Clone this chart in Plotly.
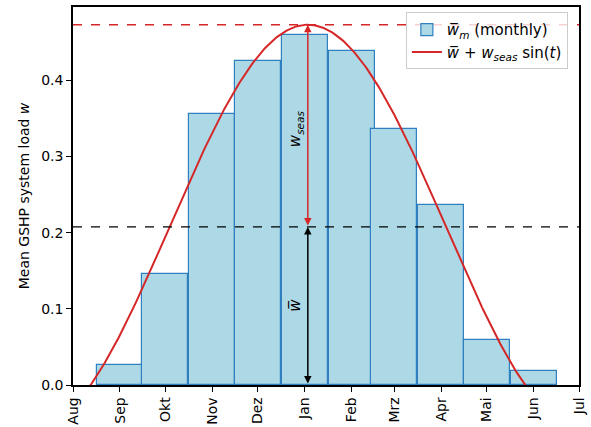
import numpy as np
import pandas as pd
import plotly.graph_objects as go

# monthly mean loads (bars centred on the first of each month)
bar_months = ['2021-09-01', '2021-10-01', '2021-11-01', '2021-12-01', '2022-01-01',
              '2022-02-01', '2022-03-01', '2022-04-01', '2022-05-01', '2022-06-01']
w_monthly = [0.026, 0.146, 0.356, 0.425, 0.459, 0.438, 0.336, 0.236, 0.059, 0.018]

# seasonal fit parameters
w_mean = 0.2075
w_seas = 0.2655
peak_date = '2022-01-03'

tick_dates = ['2021-08-01', '2021-09-01', '2021-10-01', '2021-11-01', '2021-12-01',
              '2022-01-01', '2022-02-01', '2022-03-01', '2022-04-01', '2022-05-01',
              '2022-06-01', '2022-07-01']
tick_names = ['Aug', 'Sep', 'Okt', 'Nov', 'Dez', 'Jan', 'Feb', 'Mrz', 'Apr', 'Mai', 'Jun', 'Jul']

FONT = 'DejaVu Sans'
RED = '#d62728'

days = pd.date_range('2021-07-20', '2022-07-10', freq='D')
t = 2 * np.pi * (days - pd.Timestamp(peak_date)).days.values / 365.0 + np.pi / 2
curve = w_mean + w_seas * np.sin(t)

bar_width_ms = 365 / 12 * 86400000

fig = go.Figure()

fig.add_trace(go.Bar(
    x=bar_months,
    y=w_monthly,
    width=[bar_width_ms] * len(bar_months),
    name='<i>w̅</i><sub><i>m</i></sub> (monthly)',
    marker=dict(color='#add8e6', line=dict(color='#2f7fc1', width=1.2)),
))

fig.add_trace(go.Scatter(
    x=days,
    y=curve,
    mode='lines',
    name='<i>w̅</i> + <i>w</i><sub><i>seas</i></sub> sin(<i>t</i>)',
    line=dict(color=RED, width=2),
))

peak = w_mean + w_seas

# horizontal reference lines
fig.add_shape(type='line', xref='paper', x0=0, x1=1, yref='y', y0=peak, y1=peak,
              line=dict(color=RED, width=1.3, dash='dash'), layer='above')
fig.add_shape(type='line', xref='paper', x0=0, x1=1, yref='y', y0=w_mean, y1=w_mean,
              line=dict(color='black', width=1.3, dash='dash'), layer='above')

# double arrows
fig.add_annotation(x=peak_date, y=peak, ax=peak_date, ay=w_mean, xref='x', yref='y',
                   axref='x', ayref='y', showarrow=True, arrowhead=2, startarrowhead=2,
                   arrowside='end+start', arrowsize=1, arrowwidth=1.5, arrowcolor=RED, text='')
fig.add_annotation(x=peak_date, y=w_mean, ax=peak_date, ay=0, xref='x', yref='y',
                   axref='x', ayref='y', showarrow=True, arrowhead=2, startarrowhead=2,
                   arrowside='end+start', arrowsize=1, arrowwidth=1.5, arrowcolor='black', text='')

fig.add_annotation(x=peak_date, y=0.337, xref='x', yref='y',
                   xshift=-12, text='<i>w</i><sub><i>seas</i></sub>', showarrow=False,
                   textangle=-90, font=dict(family=FONT, size=15, color='black'))
fig.add_annotation(x=peak_date, y=0.105, xref='x', yref='y',
                   xshift=-13, text='<i>w̅</i>', showarrow=False,
                   textangle=-90, font=dict(family=FONT, size=15, color='black'))

fig.update_layout(
    width=591, height=427,
    margin=dict(l=73, r=12, t=7, b=42, autoexpand=False),
    paper_bgcolor='white',
    plot_bgcolor='white',
    font=dict(family=FONT, size=14, color='black'),
    bargap=0,
    showlegend=True,
    legend=dict(
        x=0.978, y=0.986, xanchor='right', yanchor='top',
        bgcolor='rgba(255,255,255,0.8)',
        bordercolor='#cccccc', borderwidth=1,
        font=dict(family=FONT, size=15),
        tracegroupgap=4,
    ),
    xaxis=dict(
        type='date',
        range=['2021-08-01', '2022-07-01'],
        tickvals=tick_dates,
        ticktext=tick_names,
        tickangle=-90,
        tickfont=dict(size=14),
        ticks='outside', ticklen=5, tickwidth=1.2, tickcolor='black',
        showline=True, linecolor='black', linewidth=1.5, mirror=True,
        showgrid=False, zeroline=False, automargin=False,
    ),
    yaxis=dict(
        range=[0, 0.4963],
        tickvals=[0, 0.1, 0.2, 0.3, 0.4],
        tickformat='.1f',
        tickfont=dict(size=14),
        ticks='outside', ticklen=5, tickwidth=1.2, tickcolor='black',
        showline=True, linecolor='black', linewidth=1.5, mirror=True,
        showgrid=False, zeroline=False, automargin=False,
        title=dict(text='Mean GSHP system load <i>w</i>', font=dict(size=14), standoff=8),
    ),
)

fig.write_html('out.html', config={'displayModeBar': False},
               post_script="document.body.style.margin='0';")
